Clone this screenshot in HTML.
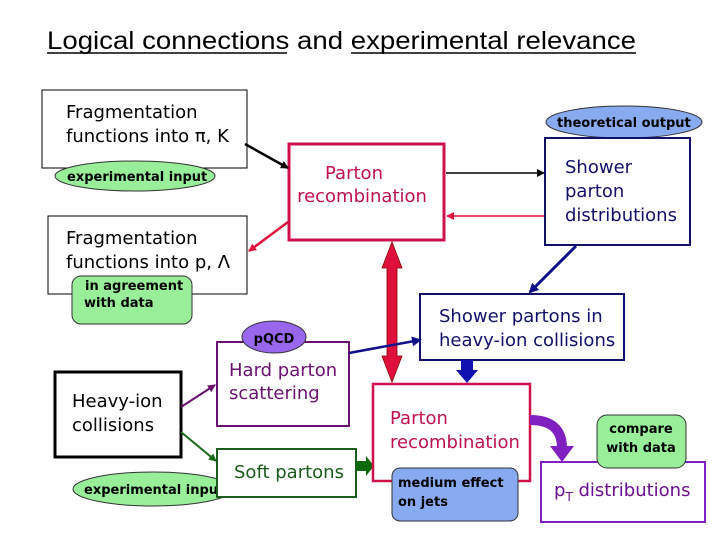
<!DOCTYPE html>
<html><head><meta charset="utf-8"><style>
html,body{margin:0;padding:0;background:#fff}
svg{display:block}
text{font-family:"DejaVu Sans","Liberation Sans",sans-serif}
.c{font-family:"DejaVu Sans","Liberation Sans",sans-serif;font-weight:bold;font-size:13px}
</style></head><body>
<svg width="720" height="540" viewBox="0 0 720 540">
<defs>
<marker id="ab" markerWidth="8" markerHeight="8" refX="7" refY="4" orient="auto" markerUnits="userSpaceOnUse"><path d="M0,0L8,4L0,8z" fill="#000"/></marker>
<marker id="ar" markerWidth="8" markerHeight="8" refX="7" refY="4" orient="auto" markerUnits="userSpaceOnUse"><path d="M0,0L8,4L0,8z" fill="#e0103c"/></marker>
<marker id="an" markerWidth="10" markerHeight="10" refX="8" refY="5" orient="auto" markerUnits="userSpaceOnUse"><path d="M0,0L10,5L0,10z" fill="#10108a"/></marker>
<marker id="ap" markerWidth="8" markerHeight="8" refX="7" refY="4" orient="auto" markerUnits="userSpaceOnUse"><path d="M0,0L8,4L0,8z" fill="#6a1070"/></marker>
<marker id="ag" markerWidth="8" markerHeight="8" refX="7" refY="4" orient="auto" markerUnits="userSpaceOnUse"><path d="M0,0L8,4L0,8z" fill="#1a6a1a"/></marker>
</defs>
<text x="47" y="49" font-size="25" textLength="589" lengthAdjust="spacingAndGlyphs" style="font-family:'Liberation Sans',sans-serif">Logical connections and experimental relevance</text>
<line x1="47" y1="53" x2="287" y2="53" stroke="#000" stroke-width="1.5"/>
<line x1="351" y1="53" x2="636" y2="53" stroke="#000" stroke-width="1.5"/>

<rect x="42" y="90" width="205" height="78" fill="#fff" stroke="#000" stroke-width="1"/>
<text x="66" y="118" font-size="18">Fragmentation</text>
<text x="66" y="142" font-size="18">functions into π, K</text>
<ellipse cx="135" cy="176" rx="80" ry="15" fill="#99ee99" stroke="#333"/>
<text class="c" x="67" y="181">experimental input</text>

<rect x="48" y="216" width="199" height="78" fill="#fff" stroke="#000"/>
<text x="66" y="244" font-size="18">Fragmentation</text>
<text x="66" y="268" font-size="18">functions into p, Λ</text>
<rect x="72" y="276" width="120" height="48" rx="9" fill="#99ee99" stroke="#333"/>
<text class="c" x="85" y="290">in agreement</text>
<text class="c" x="84" y="307">with data</text>

<rect x="289" y="144" width="155" height="96" fill="#fff" stroke="#d0104a" stroke-width="3"/>
<text x="354" y="179" font-size="18" fill="#c01050" text-anchor="middle">Parton</text>
<text x="362" y="202" font-size="18" fill="#c01050" text-anchor="middle">recombination</text>
<line x1="245" y1="144" x2="288" y2="168" stroke="#000" stroke-width="2.5" marker-end="url(#ab)"/>
<line x1="288" y1="222" x2="249" y2="251" stroke="#e0103c" stroke-width="2.5" marker-end="url(#ar)"/>

<ellipse cx="624" cy="122" rx="78" ry="16" fill="#88aaee" stroke="#333"/>
<text class="c" x="557" y="127">theoretical output</text>
<rect x="545" y="138" width="145" height="107" fill="#fff" stroke="#10106a" stroke-width="2"/>
<text x="565" y="173" font-size="18" fill="#10106a">Shower</text>
<text x="565" y="197" font-size="18" fill="#10106a">parton</text>
<text x="565" y="221" font-size="18" fill="#10106a">distributions</text>
<line x1="446" y1="173" x2="544" y2="173" stroke="#000" stroke-width="1.5" marker-end="url(#ab)"/>
<line x1="544" y1="216" x2="447" y2="216" stroke="#e0103c" stroke-width="1.5" marker-end="url(#ar)"/>
<line x1="576" y1="246" x2="530" y2="292" stroke="#10108a" stroke-width="3" marker-end="url(#an)"/>

<rect x="420" y="294" width="204" height="66" fill="#fff" stroke="#10106a" stroke-width="2"/>
<text x="439" y="322" font-size="18" fill="#10106a">Shower partons in</text>
<text x="439" y="346" font-size="18" fill="#10106a">heavy-ion collisions</text>
<rect x="461" y="360" width="12" height="12" fill="#1010b0"/>
<path d="M456,370 L478,370 L467,383 z" fill="#1010b0"/>

<path d="M392,242 L402,268 L397,268 L397,356 L402,356 L392,382 L382,356 L387,356 L387,268 L382,268 z" fill="#e0103c" stroke="#800" stroke-width="0.8"/>

<rect x="55" y="372" width="126" height="85" fill="#fff" stroke="#000" stroke-width="3"/>
<text x="72" y="407" font-size="18">Heavy-ion</text>
<text x="72" y="431" font-size="18">collisions</text>
<ellipse cx="153" cy="489" rx="80" ry="17" fill="#99ee99" stroke="#333"/>
<text class="c" x="84" y="494">experimental input</text>

<rect x="217" y="342" width="132" height="84" fill="#fff" stroke="#6a1070" stroke-width="2"/>
<ellipse cx="274" cy="337" rx="32" ry="16" fill="#9966ee" stroke="#333"/>
<text class="c" x="274" y="343" text-anchor="middle" font-weight="normal">pQCD</text>
<text x="229" y="376" font-size="18" fill="#6a1070">Hard parton</text>
<text x="229" y="399" font-size="18" fill="#6a1070">scattering</text>
<line x1="181" y1="407" x2="215" y2="385" stroke="#6a1070" stroke-width="2" marker-end="url(#ap)"/>
<line x1="349" y1="353" x2="420" y2="340" stroke="#10108a" stroke-width="2.5" marker-end="url(#an)"/>

<rect x="217" y="449" width="139" height="48" fill="#fff" stroke="#1a5a1a" stroke-width="2"/>
<text x="234" y="478" font-size="18" fill="#1a5a1a">Soft partons</text>
<line x1="181" y1="432" x2="216" y2="461" stroke="#1a6a1a" stroke-width="2" marker-end="url(#ag)"/>
<path d="M356,461 L366,461 L366,456 L374,466 L366,476 L366,471 L356,471 z" fill="#0a6a0a"/>

<rect x="373" y="384" width="157" height="97" fill="#fff" stroke="#d0104a" stroke-width="2.5"/>
<text x="390" y="424" font-size="18" fill="#c01050">Parton</text>
<text x="390" y="448" font-size="18" fill="#c01050">recombination</text>
<rect x="392" y="468" width="126" height="53" rx="8" fill="#88aaf0" stroke="#333"/>
<text class="c" x="398" y="487">medium effect</text>
<text class="c" x="398" y="506">on jets</text>

<path d="M530,420 Q562,420 562,448" stroke="#8020c0" stroke-width="10" fill="none"/>
<path d="M550,446 L574,446 L562,462 z" fill="#8020c0"/>

<rect x="541" y="462" width="164" height="60" fill="#fff" stroke="#8020c0" stroke-width="2"/>
<rect x="597" y="415" width="89" height="53" rx="10" fill="#99ee99" stroke="#333"/>
<text class="c" x="641" y="433" text-anchor="middle">compare</text>
<text class="c" x="641" y="452" text-anchor="middle">with data</text>
<text x="554" y="496" font-size="18" fill="#6a1090">p<tspan font-size="12" dy="5">T</tspan><tspan dy="-5"> distributions</tspan></text>
</svg>
</body></html>
